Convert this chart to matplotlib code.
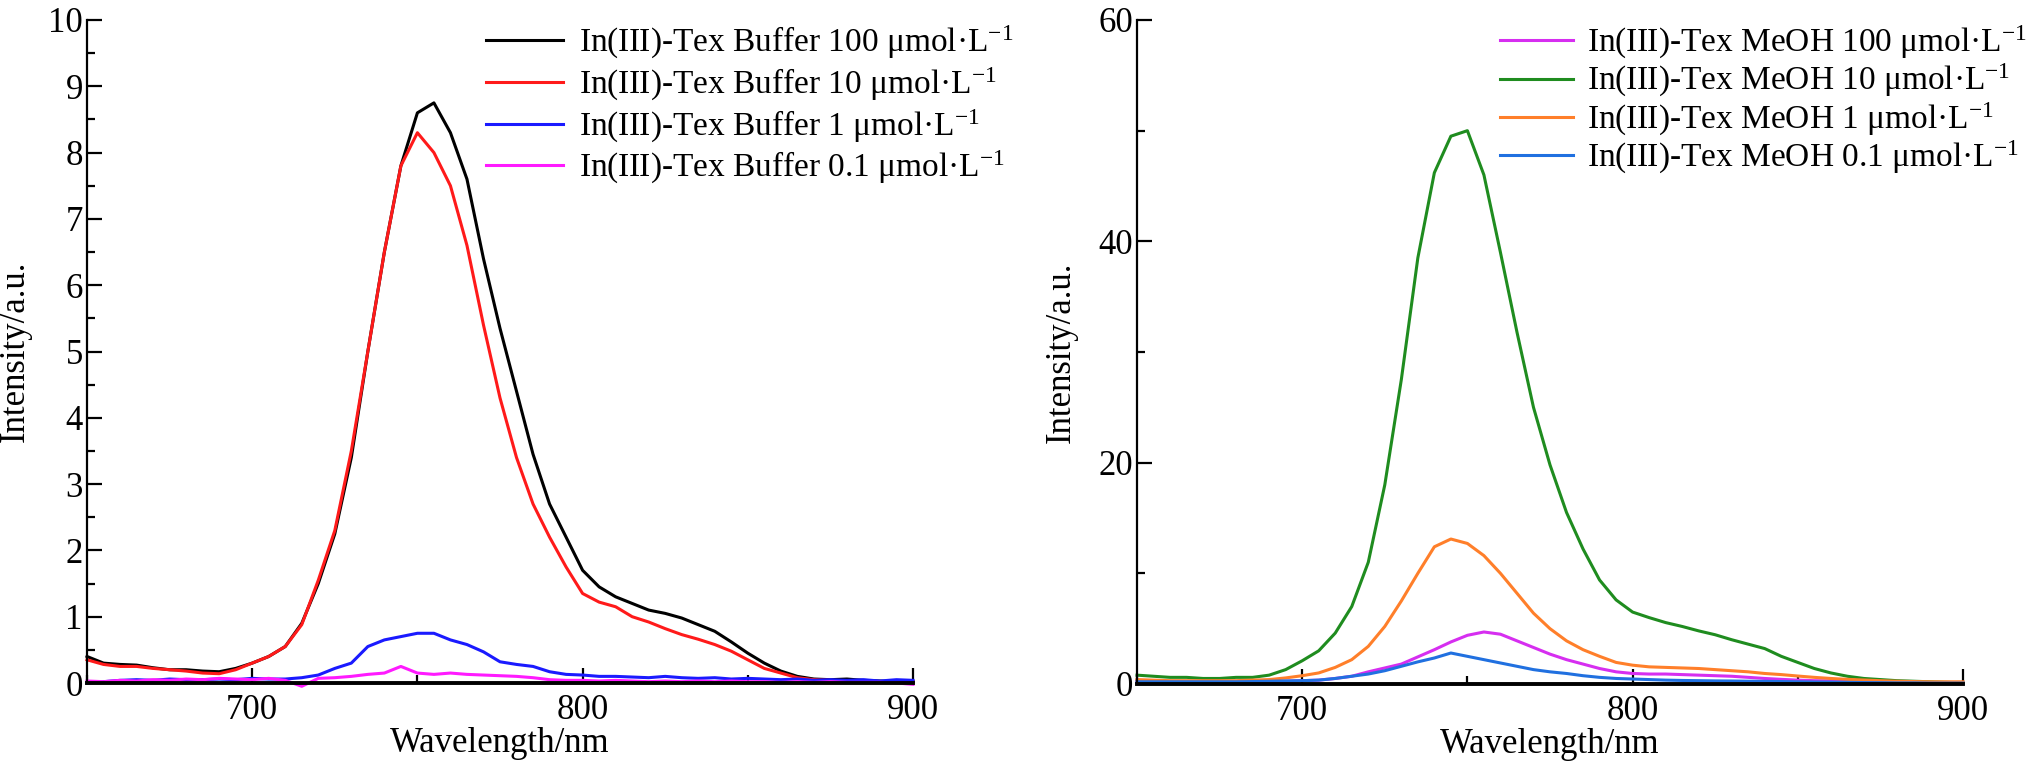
import numpy as np
import matplotlib
matplotlib.use('Agg')
import matplotlib.pyplot as plt
from matplotlib.ticker import MultipleLocator

# wavelength grid (nm), read every 5 nm
wavelength = np.arange(650, 901, 5)

# ---------------- Buffer spectra (left panel) ----------------
buffer_100 = [0.40, 0.30, 0.28, 0.27, 0.23, 0.20, 0.20, 0.18, 0.17, 0.22,
              0.30, 0.40, 0.55, 0.90, 1.50, 2.25, 3.40, 5.00, 6.50, 7.80,
              8.60, 8.75, 8.30, 7.60, 6.40, 5.35, 4.40, 3.45, 2.70, 2.20,
              1.70, 1.45, 1.30, 1.20, 1.10, 1.05, 0.98, 0.88, 0.78, 0.62,
              0.45, 0.30, 0.18, 0.10, 0.06, 0.05, 0.06, 0.04, 0.03, 0.02, 0.02]
buffer_10 = [0.35, 0.28, 0.25, 0.25, 0.22, 0.20, 0.18, 0.15, 0.14, 0.20,
             0.30, 0.40, 0.55, 0.88, 1.55, 2.30, 3.50, 5.00, 6.50, 7.80,
             8.30, 8.00, 7.50, 6.60, 5.40, 4.30, 3.40, 2.70, 2.20, 1.75,
             1.35, 1.22, 1.15, 1.00, 0.92, 0.82, 0.73, 0.66, 0.58, 0.48,
             0.35, 0.22, 0.15, 0.08, 0.05, 0.04, 0.03, 0.03, 0.02, 0.02, 0.02]
buffer_1 = [0.00, 0.02, 0.04, 0.05, 0.04, 0.06, 0.05, 0.05, 0.06, 0.05,
            0.07, 0.06, 0.06, 0.08, 0.12, 0.22, 0.30, 0.55, 0.65, 0.70,
            0.75, 0.75, 0.65, 0.58, 0.47, 0.32, 0.28, 0.25, 0.17, 0.13,
            0.12, 0.10, 0.10, 0.09, 0.08, 0.10, 0.08, 0.07, 0.08, 0.06,
            0.07, 0.06, 0.05, 0.06, 0.04, 0.05, 0.04, 0.05, 0.03, 0.05, 0.04]
buffer_01 = [0.03, 0.02, 0.04, 0.03, 0.05, 0.04, 0.06, 0.05, 0.07, 0.06,
             0.05, 0.07, 0.04, -0.05, 0.07, 0.08, 0.10, 0.13, 0.15, 0.25,
             0.15, 0.13, 0.15, 0.13, 0.12, 0.11, 0.10, 0.08, 0.05, 0.04,
             0.04, 0.03, 0.04, 0.03, 0.02, 0.03, 0.02, 0.03, 0.02, 0.03,
             0.02, 0.02, 0.01, 0.02, 0.01, 0.02, 0.01, 0.01, 0.01, 0.00, -0.02]

# ---------------- MeOH spectra (right panel) ----------------
meoh_100 = [0.30, 0.25, 0.20, 0.20, 0.20, 0.20, 0.20, 0.20, 0.20, 0.25,
            0.30, 0.35, 0.50, 0.70, 1.10, 1.45, 1.80, 2.45, 3.10, 3.80,
            4.40, 4.70, 4.50, 3.90, 3.30, 2.70, 2.20, 1.80, 1.40, 1.10,
            0.95, 0.90, 0.90, 0.85, 0.80, 0.75, 0.70, 0.60, 0.50, 0.42,
            0.35, 0.30, 0.28, 0.25, 0.20, 0.18, 0.15, 0.15, 0.12, 0.12, 0.10]
meoh_10 = [0.80, 0.70, 0.60, 0.60, 0.50, 0.50, 0.60, 0.60, 0.80, 1.30,
           2.10, 3.00, 4.60, 7.00, 11.0, 18.0, 27.5, 38.5, 46.2, 49.5,
           50.0, 46.0, 39.0, 31.8, 25.0, 19.8, 15.5, 12.2, 9.40, 7.60,
           6.50, 6.00, 5.55, 5.20, 4.80, 4.45, 4.00, 3.60, 3.20, 2.50,
           1.95, 1.40, 1.00, 0.70, 0.50, 0.40, 0.30, 0.25, 0.20, 0.15, 0.10]
meoh_1 = [0.40, 0.35, 0.30, 0.30, 0.30, 0.30, 0.30, 0.35, 0.40, 0.55,
          0.75, 1.00, 1.50, 2.20, 3.40, 5.20, 7.50, 10.0, 12.4, 13.1,
          12.7, 11.6, 10.0, 8.20, 6.40, 5.00, 3.90, 3.10, 2.50, 1.95,
          1.70, 1.55, 1.50, 1.45, 1.40, 1.30, 1.20, 1.10, 0.95, 0.85,
          0.72, 0.60, 0.50, 0.42, 0.36, 0.30, 0.25, 0.22, 0.20, 0.20, 0.20]
meoh_01 = [0.20, 0.20, 0.20, 0.20, 0.20, 0.20, 0.20, 0.22, 0.25, 0.28,
           0.30, 0.35, 0.50, 0.70, 0.90, 1.20, 1.60, 2.00, 2.35, 2.80,
           2.50, 2.20, 1.90, 1.60, 1.30, 1.10, 0.95, 0.75, 0.60, 0.50,
           0.45, 0.40, 0.35, 0.32, 0.30, 0.28, 0.27, 0.25, 0.24, 0.22,
           0.20, 0.18, 0.17, 0.15, 0.13, 0.12, 0.10, 0.10, 0.08, 0.08, 0.08]

buffer_labels = ['In(III)-Tex Buffer 100 μmol·L$^{-1}$',
                 'In(III)-Tex Buffer 10 μmol·L$^{-1}$',
                 'In(III)-Tex Buffer 1 μmol·L$^{-1}$',
                 'In(III)-Tex Buffer 0.1 μmol·L$^{-1}$']
meoh_labels = ['In(III)-Tex MeOH 100 μmol·L$^{-1}$',
               'In(III)-Tex MeOH 10 μmol·L$^{-1}$',
               'In(III)-Tex MeOH 1 μmol·L$^{-1}$',
               'In(III)-Tex MeOH 0.1 μmol·L$^{-1}$']
buffer_colors = ['#000000', '#ff1a1a', '#1a1aff', '#ff1aff']
meoh_colors = ['#d62ef0', '#1f8c1f', '#ff7f2a', '#2070e0']

FS = 25
LEG_FS = 24


def style_axes(ax, ymax, ymajor):
    # only left and bottom spines, ticks pointing inwards
    ax.spines['top'].set_visible(False)
    ax.spines['right'].set_visible(False)
    ax.spines['left'].set_linewidth(1.6)
    ax.spines['bottom'].set_linewidth(2.8)
    ax.set_xlim(650, 900)
    ax.set_ylim(0, ymax)
    ax.xaxis.set_major_locator(MultipleLocator(100))
    ax.xaxis.set_minor_locator(MultipleLocator(50))
    ax.yaxis.set_major_locator(MultipleLocator(ymajor))
    ax.yaxis.set_minor_locator(MultipleLocator(ymajor / 2))
    ax.tick_params(which='both', direction='in', labelsize=FS, width=1.6)
    ax.tick_params(which='major', length=11)
    ax.tick_params(which='minor', length=6)
    ax.tick_params(axis='x', pad=8)
    ax.tick_params(axis='y', pad=3)
    ax.set_xlabel('Wavelength/nm', fontsize=FS, labelpad=0)
    ax.set_ylabel('Intensity/a.u.', fontsize=FS)


def main():
    plt.rcParams['font.family'] = ['Liberation Serif', 'DejaVu Serif']
    plt.rcParams['mathtext.fontset'] = 'custom'
    plt.rcParams['mathtext.rm'] = 'Liberation Serif'
    plt.rcParams['mathtext.it'] = 'Liberation Serif:italic'

    fig = plt.figure(figsize=(20.4, 7.68), dpi=100)
    ax1 = fig.add_axes([87 / 2040, 85 / 768, 826 / 2040, 663 / 768])
    ax2 = fig.add_axes([1137 / 2040, 84 / 768, 826 / 2040, 664 / 768])

    # left: buffer
    for vals, lab, col in zip([buffer_100, buffer_10, buffer_1, buffer_01], buffer_labels, buffer_colors):
        ax1.plot(wavelength, vals, color=col, lw=2.2, label=lab, clip_on=False)
    style_axes(ax1, 10, 1)
    ax1.yaxis.set_label_coords(-0.067, 0.5)
    ax1.legend(loc='upper left', bbox_to_anchor=(486 / 2040, 1 - 24 / 768),
               bbox_transform=fig.transFigure, frameon=False, fontsize=LEG_FS,
               handlelength=2.3, handletextpad=0.5, labelspacing=0.14,
               borderpad=0, borderaxespad=0)

    # right: MeOH
    for vals, lab, col in zip([meoh_100, meoh_10, meoh_1, meoh_01], meoh_labels, meoh_colors):
        ax2.plot(wavelength, vals, color=col, lw=2.2, label=lab, clip_on=False)
    style_axes(ax2, 60, 20)
    ax2.yaxis.set_label_coords(-0.072, 0.5)
    ax2.legend(loc='upper left', bbox_to_anchor=(1500 / 2040, 1 - 24 / 768),
               bbox_transform=fig.transFigure, frameon=False, fontsize=LEG_FS,
               handlelength=2.2, handletextpad=0.4, labelspacing=0.04,
               borderpad=0, borderaxespad=0)

    fig.savefig('out.png', dpi=100)


if __name__ == "__main__":
    main()
